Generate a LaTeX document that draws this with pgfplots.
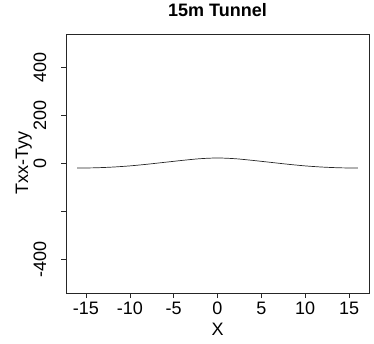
\documentclass[border=0pt]{standalone}
\usepackage{fontspec}
\setmainfont{Liberation Sans}
\usepackage{pgfplots}
\pgfplotsset{compat=1.18}

\begin{document}
\begin{tikzpicture}
\begin{axis}[
  at={(66pt,50pt)}, anchor=south west,
  scale only axis,
  width=303pt, height=259pt,
  xmin=-17.28, xmax=17.28,
  ymin=-540, ymax=540,
  axis line style={black!85, line width=0.6pt},
  tick style={black!85, line width=0.6pt},
  tick align=outside,
  major tick length=5pt,
  xtick pos=bottom, ytick pos=left,
  xtick={-15,-10,-5,0,5,10,15},
  xticklabels={-15,-10,-5,0,5,10,15},
  ytick={-400,-200,0,200,400},
  yticklabels={-400,,0,200,400},
  tick label style={font=\fontsize{18}{18}\selectfont},
  xticklabel style={anchor=base, yshift=-16pt},
  yticklabel style={rotate=90, anchor=base, yshift=15pt},
  xlabel={X},
  ylabel={Txx-Tyy},
  label style={font=\fontsize{18}{18}\selectfont},
  xlabel style={at={(axis description cs:0.5,-0.164)}, anchor=base},
  ylabel style={at={(axis description cs:-0.125,0.5)}, rotate=0, anchor=base},
  title={\textbf{15m Tunnel}},
  title style={at={(axis description cs:0.5,1.0656)}, anchor=base, yshift=-6pt, font=\fontsize{18}{18}\selectfont},
]
\addplot[black!85, line width=0.7pt, smooth, mark=none] coordinates {
  (-16,-19) (-14,-18) (-12,-15) (-10,-10) (-8,-3) (-6,5) (-4,13) (-2,20)
  (0,23) (2,20) (4,13) (6,5) (8,-3) (10,-10) (12,-15) (14,-18) (16,-19)
};
\end{axis}
\pgfresetboundingbox
\path (0,0) rectangle (374pt,343pt);
\end{tikzpicture}
\end{document}
